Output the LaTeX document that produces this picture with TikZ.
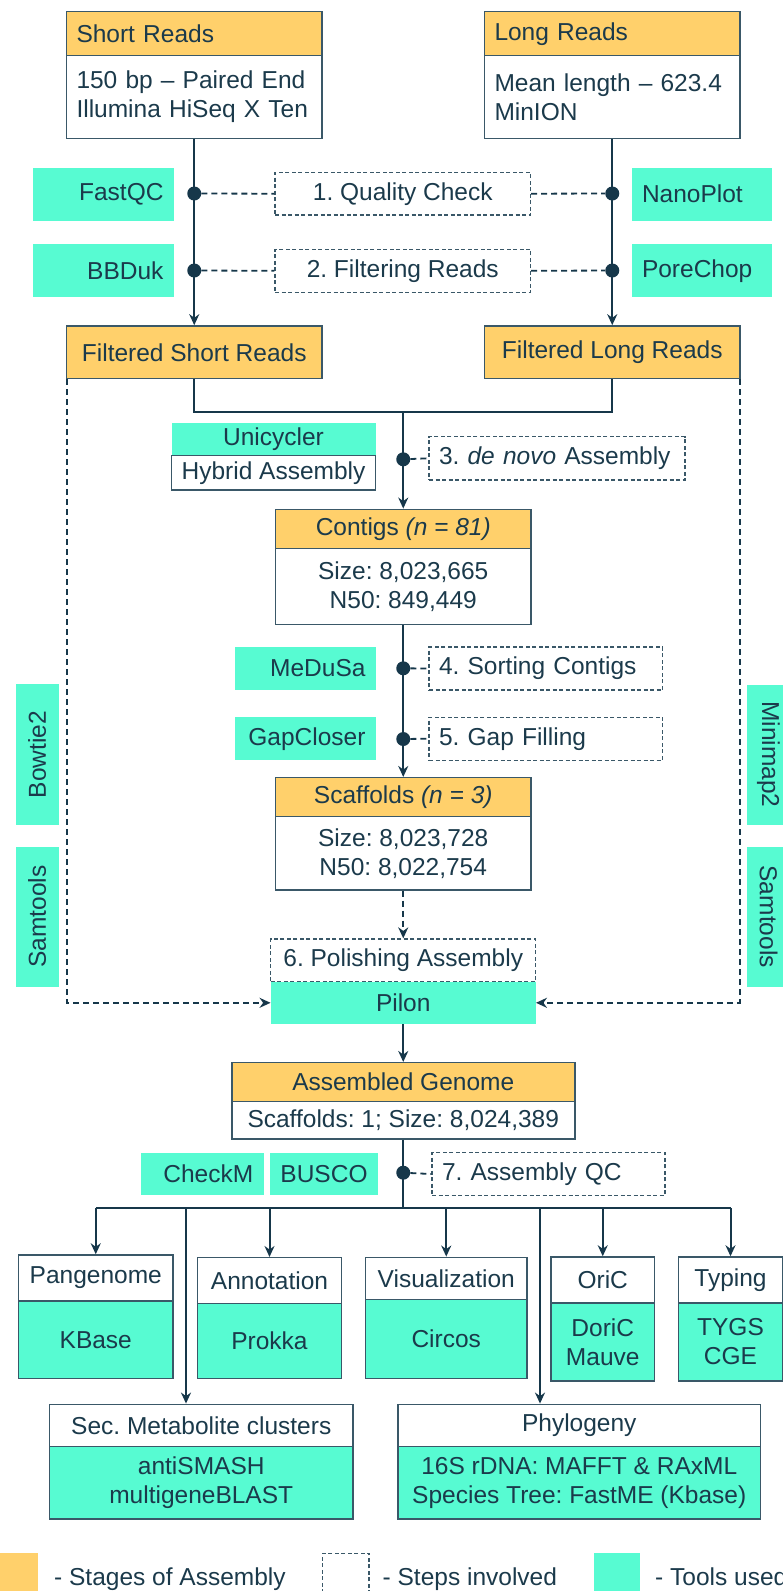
\documentclass[tikz,border=0pt]{standalone}
\usepackage{fontspec}
\setmainfont{Liberation Sans}
\usetikzlibrary{arrows.meta,positioning}

\definecolor{stageorange}{HTML}{FFD06B}
\definecolor{toolteal}{HTML}{57FBD2}
\definecolor{inkline}{HTML}{16374A}
\definecolor{boxedge}{HTML}{3A5868}
\definecolor{inktext}{HTML}{1B3A4B}

\tikzset{
    every node/.style={font=\fontsize{24.5pt}{29pt}\selectfont\frenchspacing, text=inktext, inner sep=0pt},
    stagehead/.style={draw=boxedge, line width=1.5pt, fill=stageorange},
    stagebody/.style={draw=boxedge, line width=1.5pt, fill=white},
    toolbox/.style={fill=toolteal},
    toolbody/.style={draw=boxedge, line width=1.5pt, fill=toolteal},
    stepbox/.style={draw=boxedge, line width=1.2pt, dash pattern=on 4pt off 2.5pt},
    pipe/.style={draw=inkline, line width=2pt},
    flow/.style={pipe, -{Stealth[length=11pt,width=10pt]}},
    link/.style={draw=inkline, line width=1.8pt, dash pattern=on 6pt off 4pt},
    dlink/.style={link, -{Stealth[length=11pt,width=10pt]}},
    hub/.style={circle, fill=inkline, minimum size=14pt},
}

\begin{document}
\frenchspacing
\begin{tikzpicture}[x=1pt,y=-1pt]

    \useasboundingbox (0,0) rectangle (783,1591);

    \node[stagehead, minimum width=255.5pt, minimum height=44pt, text width=235.5pt, align=left] (shortH) at (194.25,33.7) {Short Reads};
    \node[stagebody, minimum width=255.5pt, minimum height=82.6pt, text width=235.5pt, align=left] (shortB) at (194.25,97) {150 bp – Paired End\\Illumina HiSeq X Ten};
    \node[stagehead, minimum width=255.5pt, minimum height=44pt, text width=235.5pt, align=left] (longH) at (612.25,33.7) {Long Reads};
    \node[stagebody, minimum width=255.5pt, minimum height=82.6pt, text width=235.5pt, align=left] (longB) at (612.25,97) {Mean length – 623.4\\MinION};

    \node[toolbox, minimum width=140.5pt, minimum height=53pt, text width=120.5pt, align=right] (fastqc) at (103.25,194.2) {FastQC};
    \node[toolbox, minimum width=140.5pt, minimum height=53pt, text width=120.5pt, align=right] (bbduk) at (103.25,270.7) {BBDuk};
    \node[toolbox, minimum width=140pt, minimum height=53pt, text width=120pt, align=left] (nanoplot) at (702,194.2) {NanoPlot};
    \node[toolbox, minimum width=140pt, minimum height=53pt, text width=120pt, align=left] (porechop) at (702,270.7) {PoreChop};

    \node[stepbox, minimum width=255.5pt, minimum height=42.7pt] (qcheck) at (402.75,193.7) {1. Quality Check};
    \node[stepbox, minimum width=255.5pt, minimum height=43pt] (filtering) at (402.75,270.8) {2. Filtering Reads};

    \node[hub] (hubSA) at (194.25,193.5) {};
    \node[hub] (hubSB) at (194.25,270.5) {};
    \node[hub] (hubLA) at (612.25,193.5) {};
    \node[hub] (hubLB) at (612.25,270.5) {};

    \node[stagehead, minimum width=255.5pt, minimum height=52.7pt] (fshort) at (194.25,352.3) {Filtered Short Reads};
    \node[stagehead, minimum width=255.5pt, minimum height=52.7pt] (flong) at (612.25,352.3) {Filtered Long Reads};

    \draw[flow] (shortB.south) -- (fshort.north);
    \draw[flow] (longB.south) -- (flong.north);
    \draw[link] (hubSA) -- (qcheck.west);
    \draw[link] (qcheck.east) -- (hubLA);
    \draw[link] (hubSB) -- (filtering.west);
    \draw[link] (filtering.east) -- (hubLB);

    \coordinate (merge) at (403.25,411.7);
    \draw[pipe] (fshort.south) |- (merge) -| (flong.south);

    \node[toolbox, minimum width=204pt, minimum height=32.6pt] (unicycler) at (273.5,439) {Unicycler};
    \node[stagebody, minimum width=204pt, minimum height=34.7pt] (hybrid) at (273.5,472.7) {Hybrid Assembly};
    \node[hub] (hubC) at (403.25,459.3) {};
    \node[stepbox, minimum width=256pt, minimum height=43.3pt, text width=236pt, align=left] (denovo) at (557,458.3) {3. \textit{de novo} Assembly};

    \node[stagehead, minimum width=255.5pt, minimum height=39pt] (contigsH) at (403.25,528.8) {Contigs \textit{(n = 81)}};
    \node[stagebody, minimum width=255.5pt, minimum height=76pt, align=center] (contigsB) at (403.25,586.3) {Size: 8,023,665\\N50: 849,449};

    \draw[flow] (merge) -- (contigsH.north);
    \draw[link] (hubC) -- (denovo.west);

    \node[toolbox, minimum width=140.5pt, minimum height=43pt, text width=120.5pt, align=right] (medusa) at (305.25,668.5) {MeDuSa};
    \node[toolbox, minimum width=140.5pt, minimum height=43pt, text width=120.5pt, align=right] (gapcloser) at (305.25,738.7) {GapCloser};
    \node[stepbox, minimum width=233.5pt, minimum height=43pt, text width=213.5pt, align=left] (sorting) at (545.75,668.5) {4. Sorting Contigs};
    \node[stepbox, minimum width=233.5pt, minimum height=43pt, text width=213.5pt, align=left] (gapfill) at (545.75,738.7) {5. Gap Filling};
    \node[hub] (hubD) at (403.25,668.3) {};
    \node[hub] (hubE) at (403.25,739) {};

    \node[stagehead, minimum width=255.5pt, minimum height=39pt] (scafH) at (403.25,797.2) {Scaffolds \textit{(n = 3)}};
    \node[stagebody, minimum width=255.5pt, minimum height=73.3pt, align=center] (scafB) at (403.25,853.3) {Size: 8,023,728\\N50: 8,022,754};

    \draw[flow] (contigsB.south) -- (scafH.north);
    \draw[link] (hubD) -- (sorting.west);
    \draw[link] (hubE) -- (gapfill.west);

    \node[toolbox, rotate=90, minimum width=140.7pt, minimum height=43pt] (bowtie) at (37,754.7) {Bowtie2};
    \node[toolbox, rotate=90, minimum width=140pt, minimum height=43pt] (samL) at (37,916.7) {Samtools};
    \node[toolbox, rotate=-90, minimum width=140pt, minimum height=43pt] (minimap) at (768.5,754.5) {Minimap2};
    \node[toolbox, rotate=-90, minimum width=140pt, minimum height=43pt] (samR) at (768.5,916.7) {Samtools};

    \node[stepbox, minimum width=265pt, minimum height=42.7pt] (polish) at (403.25,960.3) {6. Polishing Assembly};
    \node[toolbox, minimum width=265pt, minimum height=42.3pt] (pilon) at (403.25,1002.8) {Pilon};

    \draw[dlink] (scafB.south) -- (polish.north);
    \draw[dlink] ([xshift=1pt]fshort.south west) |- (pilon.west);
    \draw[dlink] ([xshift=-1pt]flong.south east) |- (pilon.east);

    \node[stagehead, minimum width=343pt, minimum height=39pt] (genomeH) at (403.25,1082.2) {Assembled Genome};
    \node[stagebody, minimum width=343pt, minimum height=37.3pt] (genomeB) at (403.25,1120.3) {Scaffolds: 1; Size: 8,024,389};

    \draw[flow] (pilon.south) -- (genomeH.north);

    \node[toolbox, minimum width=122.5pt, minimum height=42.6pt, text width=102pt, align=right] (checkm) at (202.25,1174) {CheckM};
    \node[toolbox, minimum width=108pt, minimum height=42.6pt] (busco) at (324,1174) {BUSCO};
    \node[hub] (hubF) at (403.25,1172.7) {};
    \node[stepbox, minimum width=233pt, minimum height=42.6pt, text width=213pt, align=left] (asmqc) at (548.5,1174) {7. Assembly QC};

    \coordinate (fork) at (403.25,1208.3);
    \draw[pipe] (genomeB.south) -- (fork);
    \draw[link] (hubF) -- (asmqc.west);

    \node[stagebody, minimum width=154.5pt, minimum height=46pt] (pangH) at (95.75,1278) {Pangenome};
    \node[toolbody, minimum width=154.5pt, minimum height=77.3pt] (pangB) at (95.75,1339.7) {KBase};
    \node[stagebody, minimum width=144pt, minimum height=45.6pt] (annoH) at (269.5,1280.5) {Annotation};
    \node[toolbody, minimum width=144pt, minimum height=75pt] (annoB) at (269.5,1340.8) {Prokka};
    \node[stagebody, minimum width=161.5pt, minimum height=42pt] (visH) at (446.25,1278.3) {Visualization};
    \node[toolbody, minimum width=161.5pt, minimum height=79pt] (visB) at (446.25,1338.8) {Circos};
    \node[stagebody, minimum width=103.5pt, minimum height=46pt] (oriH) at (602.75,1280) {OriC};
    \node[toolbody, minimum width=103.5pt, minimum height=78pt, align=center] (oriB) at (602.75,1342) {DoriC\\Mauve};
    \node[stagebody, minimum width=104pt, minimum height=46pt] (typH) at (730.5,1280) {Typing};
    \node[toolbody, minimum width=104pt, minimum height=78pt, align=center] (typB) at (730.5,1342) {TYGS\\CGE};

    \node[stagebody, minimum width=303.5pt, minimum height=42.4pt] (secH) at (201.25,1425.5) {Sec. Metabolite clusters};
    \node[toolbody, minimum width=303.5pt, minimum height=72.3pt, align=center] (secB) at (201.25,1482.8) {antiSMASH\\multigeneBLAST};
    \node[stagebody, minimum width=362.5pt, minimum height=42.4pt] (phyH) at (579.25,1425.5) {Phylogeny};
    \node[toolbody, minimum width=362.5pt, minimum height=72.3pt, align=center] (phyB) at (579.25,1482.8) {16S rDNA: MAFFT \& RAxML\\Species Tree: FastME (Kbase)};

    \draw[pipe] (pangH.north |- fork) -- (typH.north |- fork);
    \draw[flow] (pangH.north |- fork) -- (pangH.north);
    \draw[flow] (annoH.north |- fork) -- (annoH.north);
    \draw[flow] (visH.north |- fork) -- (visH.north);
    \draw[flow] (oriH.north |- fork) -- (oriH.north);
    \draw[flow] (typH.north |- fork) -- (typH.north);
    \draw[flow] ([xshift=-15.25pt]secH.north |- fork) -- ([xshift=-15.25pt]secH.north);
    \draw[flow] ([xshift=-39.25pt]phyH.north |- fork) -- ([xshift=-39.25pt]phyH.north);

    \node[fill=stageorange, minimum width=46.5pt, minimum height=46.5pt] (legStage) at (14.25,1576.5) {};
    \node[anchor=base west] (legStageTxt) at (54,1585) {- Stages of Assembly};
    \node[stepbox, minimum width=46.5pt, minimum height=46.5pt] (legStep) at (345.75,1576.5) {};
    \node[anchor=base west] (legStepTxt) at (382.5,1585) {- Steps involved};
    \node[fill=toolteal, minimum width=46pt, minimum height=46.5pt] (legTool) at (617,1576.5) {};
    \node[anchor=base west] (legToolTxt) at (655,1585) {- Tools used};

\end{tikzpicture}
\end{document}
